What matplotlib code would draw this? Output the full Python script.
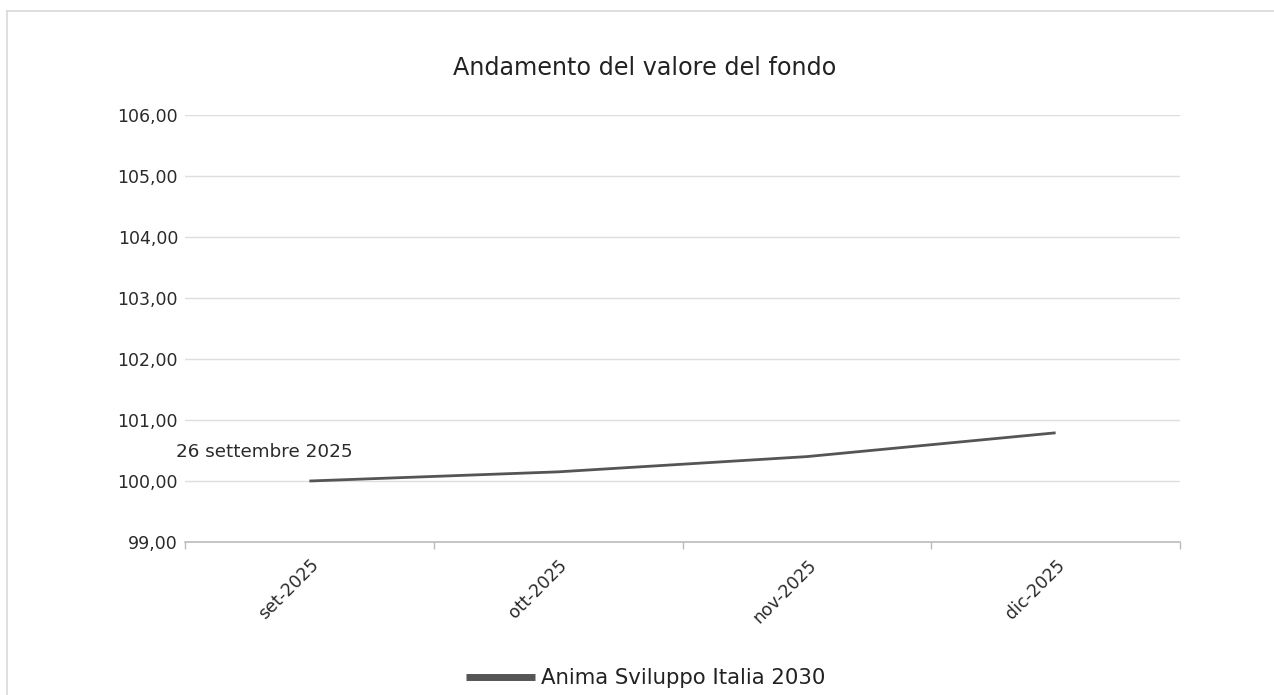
import matplotlib
matplotlib.use("Agg")
import matplotlib.pyplot as plt
from matplotlib.lines import Line2D

plt.rcParams['font.family'] = ['DejaVu Sans']

categories = ["set-2025", "ott-2025", "nov-2025", "dic-2025"]
values = [100.00, 100.15, 100.40, 100.79]
series_name = "Anima Sviluppo Italia 2030"
title = "Andamento del valore del fondo"
annotation = "26 settembre 2025"
yticks = [99, 100, 101, 102, 103, 104, 105, 106]

W, H = 1274, 695
fig = plt.figure(figsize=(W / 100, H / 100), dpi=100)
ax = fig.add_axes([185 / W, 1 - 542 / H, (1180 - 185) / W, (542 - 115) / H])

# outer border (left and top only visible)
fig.add_artist(Line2D([7 / W, 7 / W], [0, 1 - 11 / H], color='#d9d9d9', lw=1.2, transform=fig.transFigure))
fig.add_artist(Line2D([7 / W, 1], [1 - 11 / H, 1 - 11 / H], color='#d9d9d9', lw=1.2, transform=fig.transFigure))

x = list(range(len(categories)))
ax.plot(x, values, color='#555555', lw=2.0, solid_capstyle='butt')

ax.set_ylim(99, 106)
ax.set_xlim(-0.5, len(categories) - 0.5)
ax.set_yticks(yticks)
ax.set_yticklabels([f"{v:.2f}".replace('.', ',') for v in yticks], fontsize=12.5, color='#2a2a2a')
ax.yaxis.grid(True, color='#dedede', lw=1)
ax.set_axisbelow(True)

bounds = [i - 0.5 for i in range(len(categories) + 1)]
ax.set_xticks(bounds)
ax.set_xticklabels([])
ax.tick_params(axis='x', which='major', length=5, color='#bbbbbb', width=1)
ax.set_xticks(x, minor=True)
ax.set_xticklabels(categories, minor=True, rotation=45, ha='right', rotation_mode='anchor',
                   fontsize=12.5, color='#2a2a2a')
ax.tick_params(axis='x', which='minor', length=0, pad=10)
ax.tick_params(axis='y', length=0, pad=5)

for s in ['top', 'right', 'left']:
    ax.spines[s].set_visible(False)
ax.spines['bottom'].set_color('#bbbbbb')
ax.spines['bottom'].set_linewidth(1.2)

ax.annotate(annotation, xy=(x[0], values[0]), xytext=(176 / W, 1 - 452 / H),
            textcoords='figure fraction', fontsize=13.2, color='#2a2a2a', va='center', ha='left')

fig.text(645 / W, 1 - 68 / H, title, ha='center', va='center', fontsize=17.2, color='#222222')

fig.add_artist(Line2D([466 / W, 535 / W], [1 - 677 / H, 1 - 677 / H], color='#555555', lw=5,
                      transform=fig.transFigure, solid_capstyle='butt'))
fig.text(541 / W, 1 - 678 / H, series_name, ha='left', va='center', fontsize=15.3, color='#222222')

fig.savefig("out.png", dpi=100)
